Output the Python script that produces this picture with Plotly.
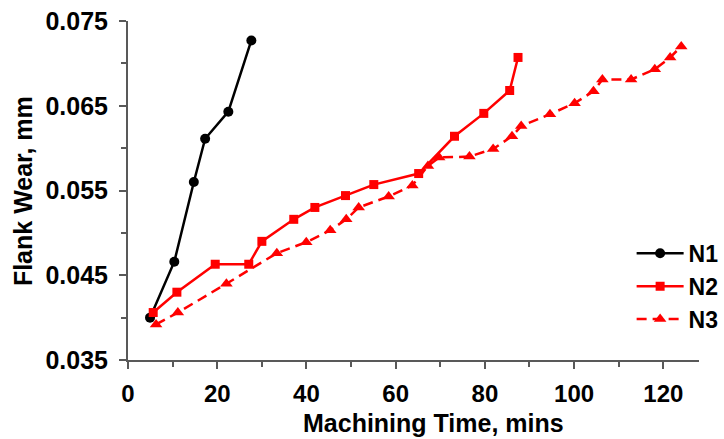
import plotly.graph_objects as go

# Flank wear measurements vs machining time for three tool conditions
n1_time = [4.94, 10.38, 14.76, 17.29, 22.49, 27.65]
n1_wear = [0.0400, 0.0466, 0.0560, 0.0611, 0.0643, 0.0727]

n2_time = [5.65, 10.96, 19.55, 27.07, 30.01, 37.16, 41.89, 48.76, 55.10,
           65.16, 73.19, 79.76, 85.56, 87.43]
n2_wear = [0.0406, 0.0430, 0.0463, 0.0463, 0.0490, 0.0516, 0.0530, 0.0544,
           0.0557, 0.0570, 0.0614, 0.0641, 0.0668, 0.0707]

n3_time = [6.29, 11.17, 22.06, 33.36, 39.96, 45.33, 48.92, 51.71, 58.43,
           63.74, 67.24, 69.75, 76.54, 81.85, 86.08, 88.14, 94.59, 100.11,
           104.34, 106.34, 112.78, 118.09, 121.53, 124.02]
n3_wear = [0.0392, 0.0406, 0.0440, 0.0476, 0.0489, 0.0503, 0.0516, 0.0530,
           0.0543, 0.0556, 0.0579, 0.0589, 0.0590, 0.0599, 0.0614, 0.0626,
           0.0640, 0.0653, 0.0667, 0.0681, 0.0681, 0.0693, 0.0707, 0.0720]

x_ticks = [0, 20, 40, 60, 80, 100, 120]
y_ticks = [0.035, 0.045, 0.055, 0.065, 0.075]

FONT = "Liberation Sans, Arial, sans-serif"
AXIS_GRAY = "#595959"

fig = go.Figure()
fig.add_trace(go.Scatter(
    x=n1_time, y=n1_wear, name="N1", mode="lines+markers",
    line=dict(color="black", width=2.5),
    marker=dict(symbol="circle", size=10, color="black"),
))
fig.add_trace(go.Scatter(
    x=n2_time, y=n2_wear, name="N2", mode="lines+markers",
    line=dict(color="#FF0000", width=2.5),
    marker=dict(symbol="square", size=9, color="#FF0000"),
))
fig.add_trace(go.Scatter(
    x=n3_time, y=n3_wear, name="N3", mode="lines+markers",
    line=dict(color="#FF0000", width=2.5, dash="10px,6px"),
    marker=dict(symbol="triangle-up", size=11, color="#FF0000"),
))

fig.update_xaxes(
    range=[0, 128], tickvals=x_ticks, ticktext=[str(v) for v in x_ticks],
    showgrid=False, zeroline=False,
    showline=True, linecolor=AXIS_GRAY, linewidth=2,
    ticks="outside", ticklen=7, tickwidth=2, tickcolor=AXIS_GRAY,
    ticklabelstandoff=4,
    minor=dict(dtick=10, tick0=0, ticks="outside", ticklen=5,
               tickwidth=2, tickcolor=AXIS_GRAY),
    tickfont=dict(family=FONT, size=24, color="black", weight="bold"),
)
fig.update_yaxes(
    range=[0.035, 0.075], tickvals=y_ticks,
    ticktext=[f"{v:.3f}" for v in y_ticks],
    showgrid=False, zeroline=False,
    showline=True, linecolor=AXIS_GRAY, linewidth=2,
    ticks="outside", ticklen=7, tickwidth=2, tickcolor=AXIS_GRAY,
    ticklabelstandoff=6,
    minor=dict(dtick=0.005, tick0=0.035, ticks="outside", ticklen=5,
               tickwidth=2, tickcolor=AXIS_GRAY),
    tickfont=dict(family=FONT, size=25, color="black", weight="bold"),
)

fig.update_layout(
    width=724, height=439,
    margin=dict(l=128, r=0, t=21, b=79),
    paper_bgcolor="white", plot_bgcolor="white",
    showlegend=True,
    legend=dict(
        x=0.882, y=0.378, xanchor="left", yanchor="top",
        bgcolor="rgba(0,0,0,0)", itemwidth=47,
        font=dict(family=FONT, size=23, color="black", weight="bold"),
        tracegroupgap=0,
    ),
    annotations=[
        dict(text="Machining Time, mins", xref="paper", yref="paper",
             x=0.535, y=-0.186, xanchor="center", yanchor="middle",
             showarrow=False,
             font=dict(family=FONT, size=25, color="black", weight="bold")),
        dict(text="Flank Wear, mm", xref="paper", yref="paper",
             x=-0.184, y=0.498, xanchor="center", yanchor="middle",
             textangle=-90, showarrow=False,
             font=dict(family=FONT, size=25, color="black", weight="bold")),
    ],
)

fig.write_html("out.html")
